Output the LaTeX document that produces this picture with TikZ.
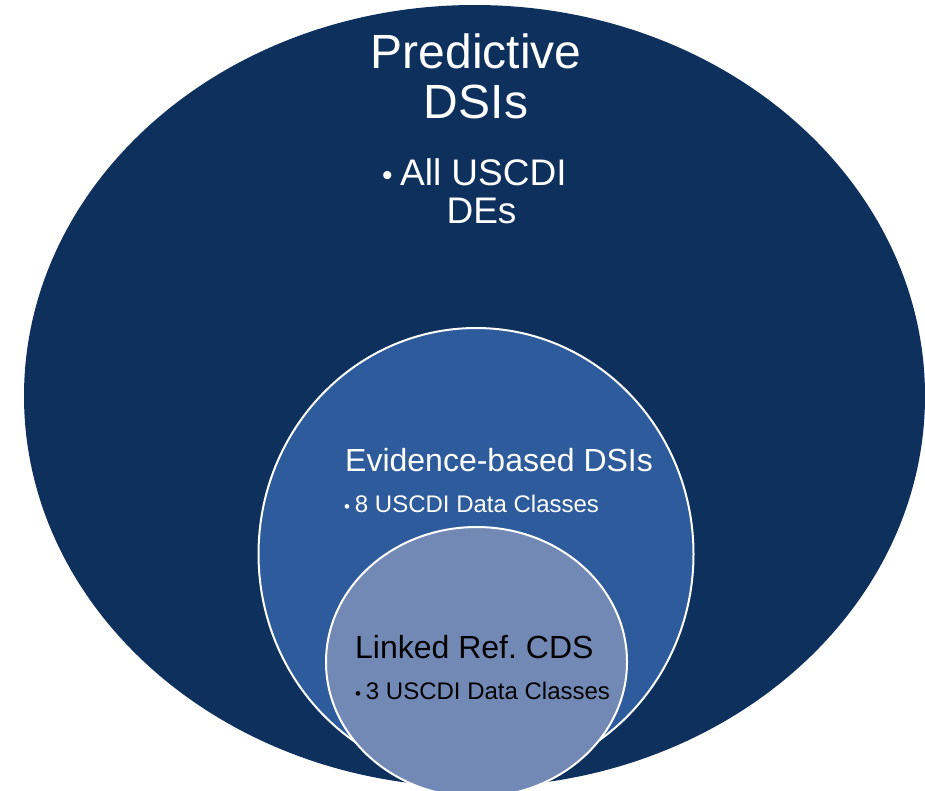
\documentclass[tikz,border=0pt]{standalone}
\usepackage{fontspec}
\setmainfont{Liberation Sans}
\definecolor{navy}{RGB}{14,48,92}
\definecolor{midblue}{RGB}{46,91,155}
\definecolor{paleblue}{RGB}{115,137,181}
\tikzset{
  ring/.style={draw=white, line width=2pt},
  label/.style={inner sep=0pt, anchor=base},
  labelw/.style={inner sep=0pt, anchor=base west}
}
\frenchspacing
\begin{document}
\begin{tikzpicture}[x=1pt, y=-1pt]
  \useasboundingbox (0,0) rectangle (925,790);
  \clip (0,0) rectangle (925,790);
  % nested sets
  \fill[navy] (474.5,396) ellipse [x radius=450.5, y radius=391];
  \filldraw[midblue, ring] (476,554) ellipse [x radius=217.5, y radius=226];
  \filldraw[paleblue, ring] (476.5,662) ellipse [x radius=150.5, y radius=135];
  % outer set
  \node[label, text=white, font=\fontsize{48}{52}\selectfont] (pred1) at (476,68) {Predictive};
  \node[label, text=white, font=\fontsize{48}{52}\selectfont] (pred2) at (476,118) {DSIs};
  \node[labelw, text=white, font=\fontsize{37}{40}\selectfont] (all1) at (382,185) {{\fontsize{30}{30}\selectfont •}\hspace{0.2em}All USCDI};
  \node[label, text=white, font=\fontsize{37}{40}\selectfont] (all2) at (481.5,223) {DEs};
  % middle set
  \node[labelw, text=white, font=\fontsize{32}{36}\selectfont] (evid) at (345,471) {Evidence-based DSIs};
  \node[labelw, text=white, font=\fontsize{24}{27}\selectfont] (evidb) at (344,512) {{\fontsize{17}{17}\selectfont •}\hspace{0.2em}8 USCDI Data Classes};
  % inner set
  \node[labelw, text=black, font=\fontsize{32}{36}\selectfont] (link) at (355,658) {Linked Ref. CDS};
  \node[labelw, text=black, font=\fontsize{24}{27}\selectfont] (linkb) at (355,699) {{\fontsize{17}{17}\selectfont •}\hspace{0.2em}3 USCDI Data Classes};
\end{tikzpicture}
\end{document}
